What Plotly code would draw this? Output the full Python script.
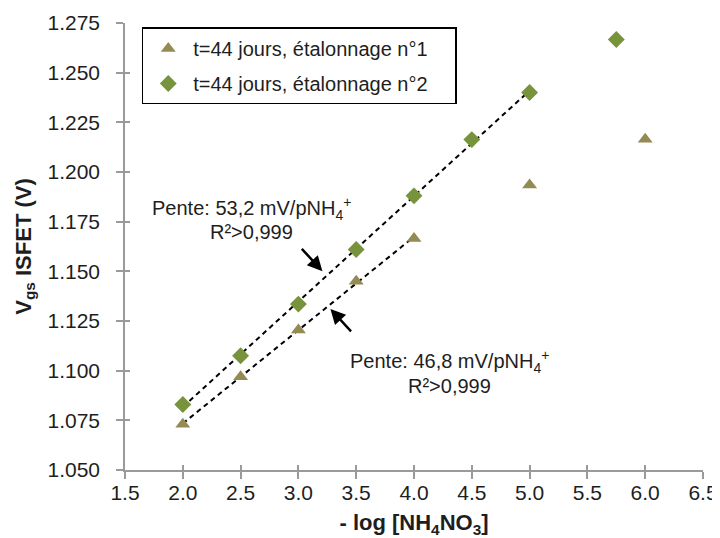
import numpy as np
import plotly.graph_objects as go

# ---- data ----
x_cal1 = [2.0, 2.5, 3.0, 3.5, 4.0, 5.0, 6.0]
v_cal1 = [1.073, 1.097, 1.1205, 1.145, 1.1665, 1.1935, 1.2165]
x_cal2 = [2.0, 2.5, 3.0, 3.5, 4.0, 4.5, 5.0, 5.75]
v_cal2 = [1.083, 1.1075, 1.1335, 1.161, 1.188, 1.2163, 1.240, 1.2667]
fit_max_cal1 = 4.0
fit_max_cal2 = 5.0
name_cal1 = "t=44 jours, étalonnage n°1"
name_cal2 = "t=44 jours, étalonnage n°2"
x_ticks = [1.5, 2.0, 2.5, 3.0, 3.5, 4.0, 4.5, 5.0, 5.5, 6.0, 6.5]
y_ticks = [1.050, 1.075, 1.100, 1.125, 1.150, 1.175, 1.200, 1.225, 1.250, 1.275]

FONT = "Arial, Liberation Sans, sans-serif"
C1 = "#948A54"
C2 = "#77933C"
AX = "#9A9A9A"
TXT = "#1E1E1E"
PAD = "\u00a0" * 4


def fit_line(xs, ys, xmax):
    xs = np.array(xs)
    ys = np.array(ys)
    m = xs <= xmax
    a, b = np.polyfit(xs[m], ys[m], 1)
    xl = np.array([xs[m].min(), xs[m].max()])
    return xl, a * xl + b


fig = go.Figure()

for xs, ys, xm in [(x_cal2, v_cal2, fit_max_cal2), (x_cal1, v_cal1, fit_max_cal1)]:
    lx, ly = fit_line(xs, ys, xm)
    fig.add_trace(go.Scatter(x=lx, y=ly, mode="lines", showlegend=False,
                             line=dict(color="black", width=2, dash="5px,4px"),
                             hoverinfo="skip"))

fig.add_trace(go.Scatter(x=x_cal1, y=v_cal1, mode="markers", name=name_cal1 + PAD,
                         legendgroup="a",
                         marker=dict(symbol="triangle-up", size=13, color=C1)))
fig.add_trace(go.Scatter(x=x_cal2, y=v_cal2, mode="markers", name=name_cal2 + PAD,
                         legendgroup="b",
                         marker=dict(symbol="diamond", size=13, color=C2)))

# overlay axes to draw the inner half of the cross tick marks
fig.add_trace(go.Scatter(x=[], y=[], xaxis="x2", yaxis="y2", showlegend=False))

xr = [x_ticks[0], x_ticks[-1]]
yr = [y_ticks[0], y_ticks[-1]]

# page body has an 8px default margin: figure is 712x530 so it ends at the window edge
fig.update_layout(
    width=712, height=530,
    margin=dict(l=117, r=17, t=15, b=68),
    paper_bgcolor="white", plot_bgcolor="white",
    font=dict(family=FONT, size=20, color=TXT),
    xaxis=dict(range=xr, tickvals=x_ticks, ticktext=[f"{v:.1f}" for v in x_ticks],
               automargin=False,
               showgrid=False, zeroline=False, showline=True, linecolor=AX, linewidth=1.5,
               ticks="outside", ticklen=7, tickcolor=AX, tickwidth=1.5,
               tickfont=dict(size=21, color=TXT), ticklabelstandoff=-4,
               title=dict(text="- log [NH<sub>4</sub>NO<sub>3</sub>]",
                          font=dict(size=22, color=TXT, weight="bold"), standoff=18)),
    yaxis=dict(range=yr, tickvals=y_ticks, ticktext=[f"{v:.3f}" for v in y_ticks],
               automargin=False,
               showgrid=False, zeroline=False, showline=True, linecolor=AX, linewidth=1.5,
               ticks="outside", ticklen=7, tickcolor=AX, tickwidth=1.5,
               tickfont=dict(size=21, color=TXT), ticklabelstandoff=12,
               title=dict(text="V<sub>gs</sub> ISFET (V)",
                          font=dict(size=22, color=TXT, weight="bold"), standoff=10)),
    xaxis2=dict(range=xr, tickvals=x_ticks, overlaying="x", anchor="y2", side="bottom",
                automargin=False,
                showticklabels=False, showgrid=False, zeroline=False, showline=False,
                ticks="inside", ticklen=5, tickcolor=AX, tickwidth=1.5),
    yaxis2=dict(range=yr, tickvals=y_ticks, overlaying="y", anchor="x2", side="left",
                automargin=False,
                showticklabels=False, showgrid=False, zeroline=False, showline=False,
                ticks="inside", ticklen=5, tickcolor=AX, tickwidth=1.5),
    legend=dict(x=0.029, y=0.99, xanchor="left", yanchor="top",
                bordercolor="black", borderwidth=1.5, bgcolor="white",
                font=dict(size=20, color=TXT), traceorder="grouped",
                tracegroupgap=6, itemwidth=40),
    showlegend=True,
)

ann_font = dict(family=FONT, size=20, color=TXT)
fig.add_annotation(x=2.59, y=1.1816, xref="x", yref="y", showarrow=False,
                   text="Pente: 53,2 mV/pNH<sub>4</sub><sup>+</sup>", font=ann_font)
fig.add_annotation(x=2.59, y=1.1699, xref="x", yref="y", showarrow=False,
                   text="R²>0,999", font=ann_font)
fig.add_annotation(x=4.304, y=1.1045, xref="x", yref="y", showarrow=False,
                   text="Pente: 46,8 mV/pNH<sub>4</sub><sup>+</sup>", font=ann_font)
fig.add_annotation(x=4.304, y=1.0923, xref="x", yref="y", showarrow=False,
                   text="R²>0,999", font=ann_font)
# arrows
fig.add_annotation(x=3.208, y=1.150, xref="x", yref="y", text="", showarrow=True,
                   ax=-22, ay=-24, arrowhead=2, arrowsize=1.2, arrowwidth=2.5, arrowcolor="black")
fig.add_annotation(x=3.277, y=1.1311, xref="x", yref="y", text="", showarrow=True,
                   ax=22, ay=24, arrowhead=2, arrowsize=1.2, arrowwidth=2.5, arrowcolor="black")

fig.write_html("out.html")
